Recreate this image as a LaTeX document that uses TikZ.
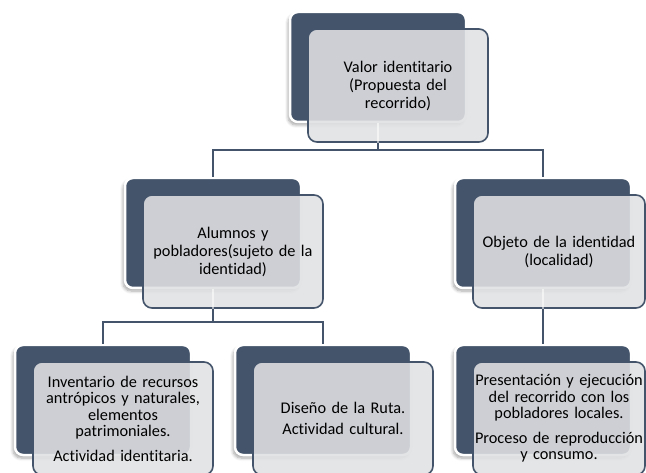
\documentclass[tikz,border=0pt]{standalone}
\usepackage{fontspec}
\setmainfont{Carlito}[Ligatures=NoCommon]
\usetikzlibrary{shadows,shadows.blur}
\definecolor{slate}{HTML}{44546A}
\definecolor{frontfill}{RGB}{224,225,227}
\newcommand{\nohyph}{\hyphenpenalty=10000\relax}
\begin{document}
\begin{tikzpicture}[x=1pt,y=-1pt,
  darkbox/.style={rectangle, rounded corners=8pt, fill=slate, draw=white, line width=2.5pt,
    minimum width=176pt, minimum height=110pt, inner sep=0pt,
    blur shadow={shadow xshift=-2pt, shadow yshift=-3pt, shadow opacity=35, shadow blur steps=6, shadow blur radius=3pt}},
  frontbox/.style={rectangle, rounded corners=9pt, fill=frontfill, fill opacity=0.88, text opacity=1,
    draw=slate, line width=1.6pt, minimum width=180pt, minimum height=113pt, inner sep=3pt,
    text width=174pt, align=center, font=\fontsize{16.3}{18}\selectfont\nohyph},
  narrow/.style={minimum width=172pt, inner xsep=1pt, text width=170pt},
  low/.style={font=\fontsize{16.3}{16.5}\selectfont\nohyph},
  conn/.style={draw=slate, line width=1.6pt},
  ghost/.style={draw=white, opacity=0.55, line width=1.5pt}]
\useasboundingbox (0,0) rectangle (646,473);
\clip (0,0) rectangle (646,473);

% level 1
\node[darkbox] (d1) at (378,67) {};
\node[frontbox] (f1) at (398,85.5) {Valor identitario\\(Propuesta del\\recorrido)};

% level 2
\node[darkbox] (d2a) at (213,233) {};
\node[frontbox] (f2a) at (233,251.5) {Alumnos y\\pobladores(sujeto de la\\identidad)};
\node[darkbox] (d2b) at (543,233) {};
\node[frontbox,narrow] (f2b) at (559,251.5) {Objeto de la identidad\\(localidad)};

% level 3
\node[darkbox] (d3a) at (103,400) {};
\node[frontbox,low] (f3a) at (123,418.5) {Inventario de recursos\\antrópicos y naturales,\\elementos\\patrimoniales.\\[8pt]Actividad identitaria.};
\node[darkbox] (d3b) at (323,400) {};
\node[frontbox,low] (f3b) at (343,418.5) {Diseño de la Ruta.\\[4pt]Actividad cultural.};
\node[darkbox] (d3c) at (543,400) {};
\node[frontbox,low,narrow] (f3c) at (559,418.5) {Presentación y ejecución\\del recorrido con los\\pobladores locales.\\[8pt]Proceso de reproducción\\y consumo.};

% faint traces of the connectors under the front boxes
\draw[ghost] (d1.south) -- (d1.south |- f1.south);
\draw[ghost] (d2a.south) -- (d2a.south |- f2a.south);
\draw[ghost] (d2b.south) -- (d2b.south |- f2b.south);

% connectors
\draw[conn] (d1.south |- f1.south) -- ++(0,7) -| (d2a.north);
\draw[conn] (d1.south |- f1.south) -- ++(0,7) -| (d2b.north);
\draw[conn] (d2a.south |- f2a.south) -- ++(0,13) -| (d3a.north);
\draw[conn] (d2a.south |- f2a.south) -- ++(0,13) -| (d3b.north);
\draw[conn] (d2b.south |- f2b.south) -- (d3c.north);
\end{tikzpicture}
\end{document}
